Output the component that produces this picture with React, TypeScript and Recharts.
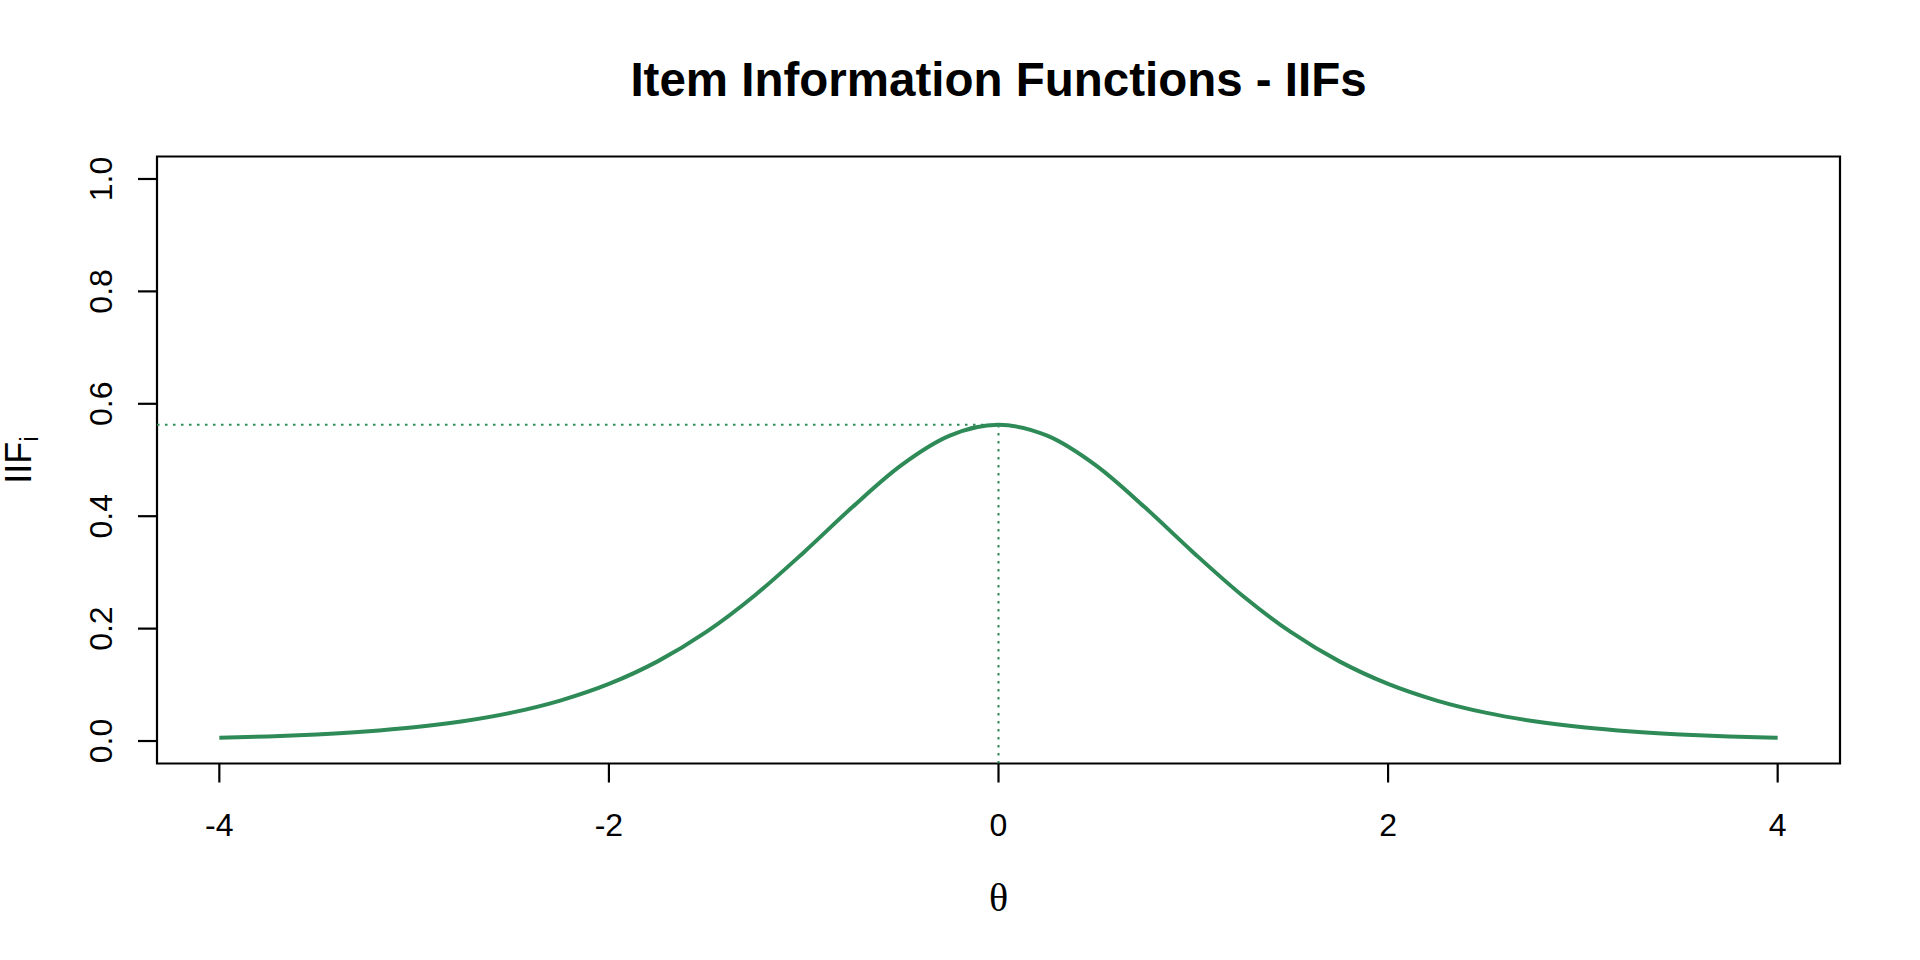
import { Customized, Line, LineChart, ReferenceArea, ReferenceLine, XAxis, YAxis } from "recharts";

// theta grid and item information
const thetaValues = [
  -4, -3.75, -3.5, -3.25, -3, -2.75, -2.5, -2.25, -2, -1.75, -1.5, -1.25, -1, -0.75, -0.5, -0.25, 0,
  0.25, 0.5, 0.75, 1, 1.25, 1.5, 1.75, 2, 2.25, 2.5, 2.75, 3, 3.25, 3.5, 3.75, 4,
];
const infoValues = [
  0.0056, 0.0081, 0.0117, 0.0169, 0.0244, 0.0352, 0.0505, 0.072, 0.1016, 0.1417, 0.1941, 0.2594, 0.3356,
  0.4162, 0.4903, 0.5432, 0.5625, 0.5432, 0.4903, 0.4162, 0.3356, 0.2594, 0.1941, 0.1417, 0.1016, 0.072,
  0.0505, 0.0352, 0.0244, 0.0169, 0.0117, 0.0081, 0.0056,
];
const xTicks = [-4, -2, 0, 2, 4];
const yTicks = [0, 0.2, 0.4, 0.6, 0.8, 1.0];
const peakTheta = 0;
const peakInfo = 0.5625;

const X_DOMAIN: [number, number] = [-4.32, 4.32];
const Y_DOMAIN: [number, number] = [-0.04, 1.04];

const data = thetaValues.map((theta, i) => ({ theta, info: infoValues[i] }));

const sans = "'Liberation Sans', Arial, sans-serif";
const green = "#2E8B57";

const XTick = (props: any) => (
  <text x={props.x} y={props.y + 51} textAnchor="middle" fontFamily={sans} fontSize={32} fill="#000">
    {props.payload.value}
  </text>
);

const YTick = (props: any) => {
  const bx = 112;
  return (
    <text
      x={bx}
      y={props.y}
      transform={`rotate(-90, ${bx}, ${props.y})`}
      textAnchor="middle"
      fontFamily={sans}
      fontSize={32}
      fill="#000"
    >
      {Number(props.payload.value).toFixed(1)}
    </text>
  );
};

const YLabel = (props: any) => {
  const vb = props.viewBox;
  const cx = vb.x + 31;
  const cy = vb.y + vb.height / 2;
  return (
    <text
      x={cx}
      y={cy}
      transform={`rotate(-90, ${cx}, ${cy})`}
      textAnchor="middle"
      fontFamily={sans}
      fontSize={36}
      fill="#000"
    >
      IIF
      <tspan fontSize={25} dy={7}>
        i
      </tspan>
    </text>
  );
};

const XLabel = (props: any) => {
  const vb = props.viewBox;
  return (
    <text
      x={vb.x + vb.width / 2}
      y={911}
      textAnchor="middle"
      fontFamily="'Liberation Serif', 'Times New Roman', serif"
      fontSize={40}
      fill="#000"
    >
      θ
    </text>
  );
};

const Title = () => (
  <text x={998.5} y={96} textAnchor="middle" fontFamily={sans} fontSize={47.5} fontWeight="bold" fill="#000">
    Item Information Functions - IIFs
  </text>
);

export default function App() {
  return (
    <div style={{ position: "absolute", left: 0, top: 0, width: 1920, height: 960, background: "#fff" }}>
      <LineChart width={1920} height={960} data={data} margin={{ top: 156.5, right: 80, bottom: 0, left: 0 }}>
        <XAxis
          dataKey="theta"
          type="number"
          domain={X_DOMAIN}
          ticks={xTicks}
          allowDataOverflow
          height={196.5}
          axisLine={false}
          tickSize={19}
          tickLine={{ stroke: "#000", strokeWidth: 2.2 }}
          tick={<XTick />}
          label={<XLabel />}
        />
        <YAxis
          type="number"
          domain={Y_DOMAIN}
          ticks={yTicks}
          allowDataOverflow
          width={157}
          axisLine={false}
          tickSize={19}
          tickMargin={26}
          tickLine={{ stroke: "#000", strokeWidth: 2.2 }}
          tick={<YTick />}
          label={<YLabel />}
        />
        <ReferenceArea
          x1={X_DOMAIN[0]}
          x2={X_DOMAIN[1]}
          y1={Y_DOMAIN[0]}
          y2={Y_DOMAIN[1]}
          fill="none"
          fillOpacity={0}
          stroke="#000"
          strokeWidth={2.2}
          ifOverflow="visible"
        />
        <ReferenceLine
          segment={[
            { x: X_DOMAIN[0], y: peakInfo },
            { x: peakTheta, y: peakInfo },
          ]}
          stroke={green}
          strokeWidth={2}
          strokeDasharray="2.5 5.5"
          ifOverflow="visible"
        />
        <ReferenceLine
          segment={[
            { x: peakTheta, y: Y_DOMAIN[0] },
            { x: peakTheta, y: peakInfo },
          ]}
          stroke={green}
          strokeWidth={2}
          strokeDasharray="2.5 5.5"
          ifOverflow="visible"
        />
        <Line
          type="monotone"
          dataKey="info"
          stroke={green}
          strokeWidth={4}
          dot={false}
          activeDot={false}
          isAnimationActive={false}
        />
        <Customized component={Title} />
      </LineChart>
    </div>
  );
}
